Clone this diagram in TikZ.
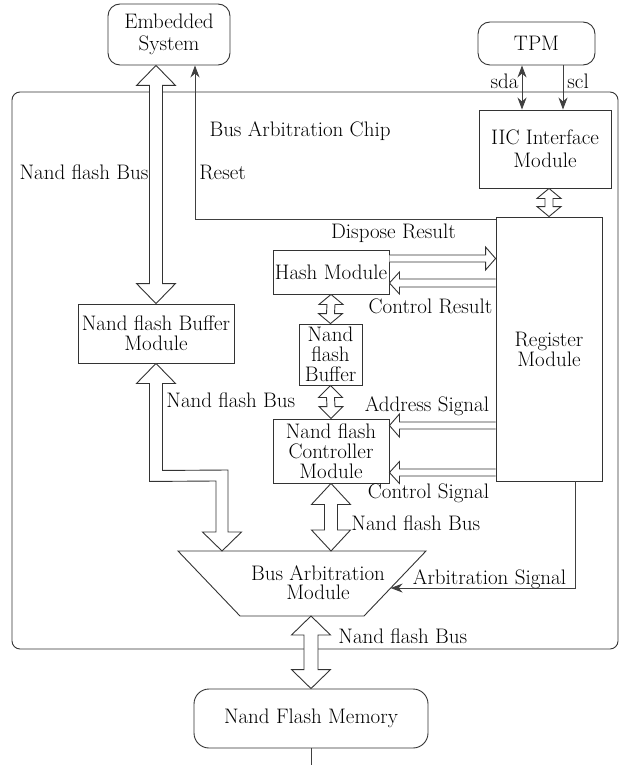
\documentclass[tikz,border=0pt]{standalone}
\usetikzlibrary{arrows.meta,calc}
\begin{document}
\begin{tikzpicture}[x=1pt,y=-1pt,
  line width=0.9pt,
  every node/.style={font=\fontsize{21}{20}\selectfont, inner sep=0pt, text=black},
  box/.style={draw=black!80, rectangle, align=center},
  rbox/.style={box, rounded corners=12pt},
  lbl/.style={},
  thin/.style={draw=black!75, line width=0.9pt},
  tip/.style={-{Stealth[length=12pt,width=9pt]}},
  bus/.style={draw=black!80, fill=white, line join=miter}]

\useasboundingbox (0,0) rectangle (624,765);

% vertical fat double arrow: #1 upper tip, #2 lower tip, #3 shaft half width,
% #4 head half width, #5 head length
\newcommand{\vbus}[5]{%
  \draw[bus] (#1) -- ($(#1)+(#4,#5)$) -- ($(#1)+(#3,#5)$) -- ($(#2)+(#3,-#5)$)
    -- ($(#2)+(#4,-#5)$) -- (#2) -- ($(#2)+(-#4,-#5)$) -- ($(#2)+(-#3,-#5)$)
    -- ($(#1)+(-#3,#5)$) -- ($(#1)+(-#4,#5)$) -- cycle;}
% horizontal fat arrow pointing right: #1 start, #2 tip
\newcommand{\rbus}[5]{%
  \draw[bus] ($(#1)+(0,-#3)$) -- ($(#2)+(-#5,-#3)$) -- ($(#2)+(-#5,-#4)$) -- (#2)
    -- ($(#2)+(-#5,#4)$) -- ($(#2)+(-#5,#3)$) -- ($(#1)+(0,#3)$);}
% horizontal fat arrow pointing left: #1 start, #2 tip
\newcommand{\lbus}[5]{%
  \draw[bus] ($(#1)+(0,-#3)$) -- ($(#2)+(#5,-#3)$) -- ($(#2)+(#5,-#4)$) -- (#2)
    -- ($(#2)+(#5,#4)$) -- ($(#2)+(#5,#3)$) -- ($(#1)+(0,#3)$);}

% chip outline
\draw[draw=black!80, rounded corners=8pt] (12,92) rectangle (618,649);
\node[lbl] (chip) at (300,131) {Bus Arbitration Chip};

% blocks
\node[rbox, minimum width=122pt, minimum height=61pt, font=\fontsize{21}{22}\selectfont]
  (emb) at (169,34.5) {Embedded\\System};
\node[rbox, minimum width=117pt, minimum height=43pt] (tpm) at (536.5,43.5) {TPM};
\node[box, minimum width=132pt, minimum height=78pt, font=\fontsize{21}{23}\selectfont]
  (iic) at (545,149) {IIC Interface\\Module};
\node[box, minimum width=106pt, minimum height=264pt] (reg) at (549,349) {Register\\Module};
\node[box, minimum width=116pt, minimum height=44pt] (hash) at (331,272) {Hash Module};
\node[box, minimum width=63pt, minimum height=61pt] (nbuf) at (330.5,354.5) {Nand\\flash\\Buffer};
\node[box, minimum width=116pt, minimum height=64pt] (ctrl) at (331,451) {Nand flash\\Controller\\Module};
\node[box, minimum width=156pt, minimum height=59pt] (bufm) at (156,333.5) {Nand flash Buffer\\Module};
\node[rbox, rounded corners=15pt, minimum width=234pt, minimum height=59pt] (mem) at (311,718.5) {Nand Flash Memory};

% bus arbitration module (trapezoid)
\coordinate (atl) at (178,551);
\coordinate (atr) at (426,551);
\coordinate (abr) at (364,616);
\coordinate (abl) at (240,616);
\draw[draw=black!80] (atl) -- (atr) -- (abr) -- (abl) -- cycle;
\node[align=center, font=\fontsize{21}{19}\selectfont] (arb) at (318,583) {Bus Arbitration\\Module};

% thin signal lines
\coordinate (sdaT) at ($(tpm.south)+(-14.5,0)$);
\coordinate (sclT) at ($(tpm.south)+(26.5,0)$);
\draw[thin, {Stealth[length=12pt,width=9pt]}-{Stealth[length=12pt,width=9pt]}] (sdaT) -- (sdaT |- iic.north);
\draw[thin, tip] (sclT) -- (sclT |- iic.north);
\node[lbl, anchor=east] (sda) at (519,81) {sda};
\node[lbl, anchor=west] (scl) at (567,81) {scl};

\coordinate (rs0) at ($(reg.north west)+(0,3)$);
\coordinate (rsE) at ($(emb.south)+(26,0)$);
\draw[thin, tip] (rs0) -| (rsE);
\node[lbl, anchor=west] (reset) at (199,172) {Reset};

\coordinate (as0) at ($(reg.south)+(26,0)$);
\coordinate (ae) at ($(atr)!0.57!(abr)$);
\draw[thin, tip] (as0) |- (ae);
\node[lbl] (arbsig) at (489.5,579) {Arbitration Signal};

\coordinate (mend) at ($(mem.south)+(0,17)$);
\draw[thin] (mem.south) -- (mend);

% fat buses
\coordinate (eb) at (emb.south -| bufm.north);
\vbus{eb}{bufm.north}{6.5}{19.5}{20}
\node[lbl] (bus1) at (84,172) {Nand flash Bus};

\coordinate (T) at (bufm.south);
\coordinate (B) at ($(atl)+(44,0)$);
\draw[bus] (T) -- ($(T)+(19.5,20)$) -- ($(T)+(6.5,20)$) -- ($(T)+(6.5,107)$)
  -- ($(B)+(6,-81)$) -- ($(B)+(6,-19)$) -- ($(B)+(19.5,-19)$) -- (B)
  -- ($(B)+(-19.5,-19)$) -- ($(B)+(-6,-19)$) -- ($(B)+(-6,-70)$)
  -- ($(T)+(-6.5,118)$) -- ($(T)+(-6.5,20)$) -- ($(T)+(-19.5,20)$) -- cycle;
\node[lbl, anchor=west] (bus2) at (166,400) {Nand flash Bus};

\coordinate (ca) at (ctrl.south |- atl);
\vbus{ctrl.south}{ca}{6.5}{19.5}{21}
\node[lbl, anchor=west] (bus3) at (351,523) {Nand flash Bus};

\coordinate (bm) at (mem.north |- abl);
\vbus{bm}{mem.north}{7}{19.5}{19}
\node[lbl, anchor=west] (bus4) at (338,636) {Nand flash Bus};

% small buses
\coordinate (ir) at (reg.north |- iic.south);
\vbus{ir}{reg.north}{4}{12}{10}
\vbus{hash.south}{nbuf.north}{4}{12}{10}
\vbus{nbuf.south}{ctrl.north}{4}{12}{12}

% register <-> module buses
\coordinate (dr1) at ($(hash.east)+(0,-13.5)$);
\coordinate (dr2) at (dr1 -| reg.west);
\rbus{dr1}{dr2}{3.5}{11.5}{10}
\node[lbl] (dispose) at (393.5,233) {Dispose Result};

\coordinate (cr1) at ($(hash.east)+(0,11)$);
\coordinate (cr2) at (cr1 -| reg.west);
\lbus{cr2}{cr1}{4}{11}{10}
\node[lbl] (ctrlres) at (430.5,306) {Control Result};

\coordinate (ad1) at ($(ctrl.east)+(0,-25.5)$);
\coordinate (ad2) at (ad1 -| reg.west);
\lbus{ad2}{ad1}{3.5}{11.5}{10}
\node[lbl] (addr) at (427,406) {Address Signal};

\coordinate (cs1) at ($(ctrl.east)+(0,21.5)$);
\coordinate (cs2) at (cs1 -| reg.west);
\lbus{cs2}{cs1}{3.5}{11}{10}
\node[lbl] (ctrlsig) at (428.5,493) {Control Signal};

\end{tikzpicture}
\end{document}
